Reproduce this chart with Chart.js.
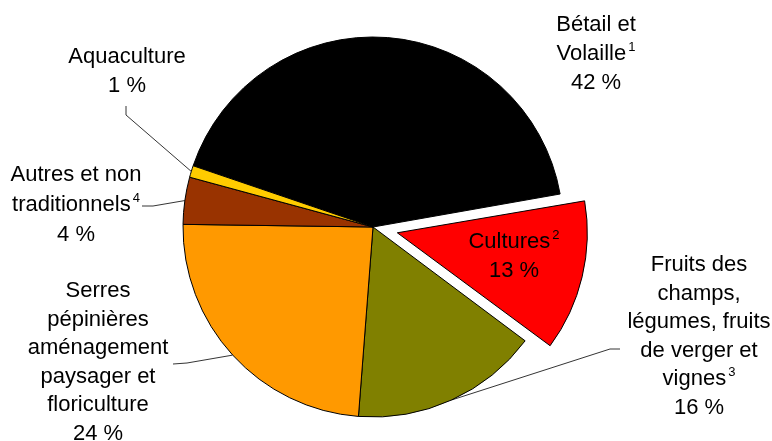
<!DOCTYPE html>
<html>
<head>
<meta charset="utf-8">
<script src="https://cdn.jsdelivr.net/npm/chart.js@4"></script>
<style>
  body { margin: 0; background: #fff; }
  #wrap { width: 772px; height: 441px; }
</style>
</head>
<body>
<div id="wrap"><canvas id="chart" width="772" height="441"></canvas></div>
<script>
// === DATA ===
const categories = [
    "Bétail et Volaille",
    "Cultures",
    "Fruits des champs, légumes, fruits de verger et vignes",
    "Serres pépinières aménagement paysager et floriculture",
    "Autres et non traditionnels",
    "Aquaculture",
];
const shares = [42, 13, 16, 24, 4, 1];
const notes = ["1", "2", "3", "", "4", ""];
const sliceColors = ["#000000", "#FF0000", "#808000", "#FF9900", "#993300", "#FFCC00"];

// label text lines (last line of each gets the note number)
const labelLines = [
    ["Bétail et", "Volaille"],
    ["Cultures"],
    ["Fruits des", "champs,", "légumes, fruits", "de verger et", "vignes"],
    ["Serres", "pépinières", "aménagement", "paysager et", "floriculture"],
    ["Autres et non", "traditionnels"],
    ["Aquaculture"],
];

// where each label sits: centre x, first baseline, line step, leader elbow points
const labelLayout = [
    { x: 596, y: 31, step: 29 },
    { x: 514, y: 248, step: 28.5 },
    { x: 699, y: 271, step: 28.6, leader: [[620, 349], [610, 349]] },
    { x: 98, y: 297, step: 28.6, leader: [[173, 364], [187, 363]] },
    { x: 76, y: 181, step: 30, leader: [[142, 206], [153, 206]] },
    { x: 127, y: 63, step: 29, leader: [[126, 106], [126, 115]] },
];

const FONT = '"Liberation Sans", Arial, sans-serif';
const EXPLODE = 25; // px the Cultures slice is pulled out

const sliceLabels = {
    id: "sliceLabels",
    afterDatasetsUpdate(chart) {
        // chart.js grows an offset arc a little; keep it the same radius as the others
        const arcs = chart.getDatasetMeta(0).data;
        arcs.forEach((arc) => {
            const off = (arc.options.offset || 0) / 4;
            if (off) arc.outerRadius -= off * (1 - Math.sin(Math.min(Math.PI, arc.circumference)));
        });
    },
    afterDatasetsDraw(chart) {
        const ctx = chart.ctx;
        const arcs = chart.getDatasetMeta(0).data;
        ctx.save();
        ctx.strokeStyle = "#000";
        ctx.lineWidth = 0.8;
        labelLayout.forEach((lay, i) => {
            if (!lay.leader) return;
            const arc = arcs[i];
            const mid = (arc.startAngle + arc.endAngle) / 2;
            ctx.beginPath();
            ctx.moveTo(lay.leader[0][0], lay.leader[0][1]);
            ctx.lineTo(lay.leader[1][0], lay.leader[1][1]);
            ctx.lineTo(arc.x + Math.cos(mid) * arc.outerRadius, arc.y + Math.sin(mid) * arc.outerRadius);
            ctx.stroke();
        });

        ctx.fillStyle = "#000";
        ctx.textBaseline = "alphabetic";
        ctx.textAlign = "left";
        labelLayout.forEach((lay, i) => {
            const lines = labelLines[i].map((t) => ({ t, sup: "" }));
            lines[lines.length - 1].sup = notes[i];
            lines.push({ t: shares[i] + " %", sup: "" });
            lines.forEach((ln, k) => {
                ctx.font = "22px " + FONT;
                const w = ctx.measureText(ln.t).width;
                ctx.font = "13px " + FONT;
                const sw = ln.sup ? ctx.measureText(ln.sup).width + 2 : 0;
                const x0 = lay.x - (w + sw) / 2;
                const y = lay.y + k * lay.step;
                ctx.font = "22px " + FONT;
                ctx.fillText(ln.t, x0, y);
                if (ln.sup) {
                    ctx.font = "13px " + FONT;
                    ctx.fillText(ln.sup, x0 + w + 2, y - 9);
                }
            });
        });
        ctx.restore();
    },
};

const ctx = document.getElementById("chart").getContext("2d");
const chart = new Chart(ctx, {
    type: "pie",
    data: {
        labels: categories,
        datasets: [
            {
                data: shares,
                backgroundColor: sliceColors,
                borderColor: "#000",
                borderWidth: 1,
                offset: shares.map((v, i) => (i === 1 ? EXPLODE * 4 : 0)),
            },
        ],
    },
    options: {
        responsive: false,
        animation: false,
        rotation: -71.2,
        radius: 190,
        layout: { padding: { left: 0, right: 26, top: 13, bottom: 0 } },
        plugins: {
            legend: { display: false },
            tooltip: { enabled: false },
        },
        events: [],
    },
    plugins: [sliceLabels],
});
</script>
</body>
</html>
